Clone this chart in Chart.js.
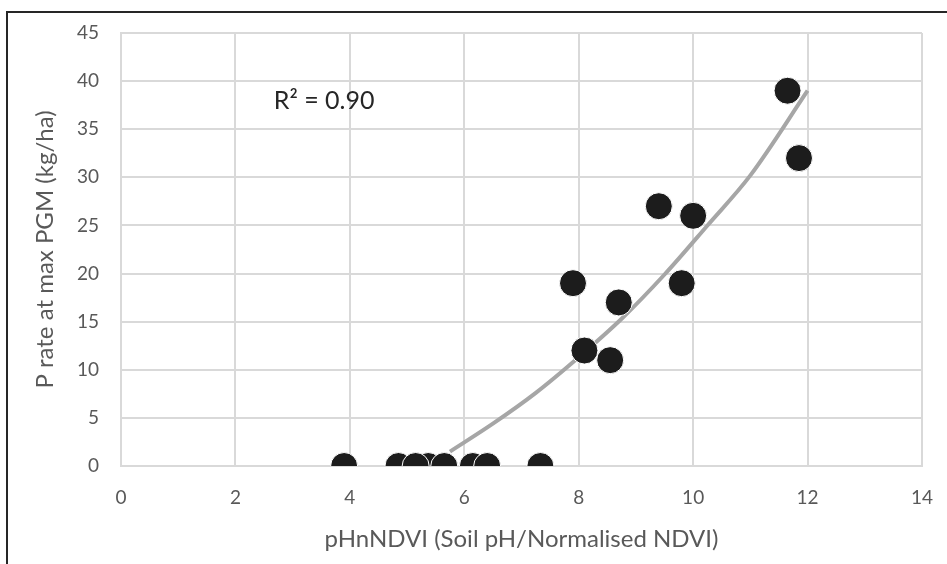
<!DOCTYPE html>
<html>
<head>
<meta charset="utf-8">
<script src="https://cdn.jsdelivr.net/npm/chart.js@4/dist/chart.umd.min.js"></script>
<style>
  html, body { margin: 0; padding: 0; background: #fff; }
  #wrap { width: 947px; height: 564px; position: relative; }
</style>
</head>
<body>
<div id="wrap"><canvas id="scatter"></canvas></div>
<script>
// sites: pHnNDVI vs P rate at max PGM
const siteX = [3.9, 4.85, 5.37, 5.15, 5.65, 6.15, 6.4, 7.33, 7.9, 8.1, 8.55, 8.7, 9.4, 9.8, 10.0, 11.65, 11.85];
const siteY = [0, 0, 0, 0, 0, 0, 0, 0, 19, 12, 11, 17, 27, 19, 26, 39, 32];

// trend curve, read along its length
const trendX = [5.75, 6.5, 7.25, 8.0, 8.75, 9.5, 10.25, 11.0, 12.0];
const trendY = [1.5, 4.4, 7.6, 11.3, 15.3, 19.9, 25.0, 30.2, 39.0];

const xTicks = [0, 2, 4, 6, 8, 10, 12, 14];
const yTicks = [0, 5, 10, 15, 20, 25, 30, 35, 40, 45];
const r2Label = "R\u00B2 = 0.90";

const FONT = "Lato, 'Open Sans', sans-serif";
const GREY = "#595959";

const toPoints = (xs, ys) => xs.map((x, i) => ({ x: x, y: ys[i] }));

// outer frame + R² annotation
const extras = {
    id: "extras",
    afterDraw(chart) {
        const ctx = chart.ctx;
        ctx.save();
        ctx.strokeStyle = "#262626";
        ctx.lineWidth = 2;
        ctx.beginPath();
        ctx.moveTo(7, 564);
        ctx.lineTo(7, 12);
        ctx.lineTo(947, 12);
        ctx.stroke();

        const xs = chart.scales.x, ys = chart.scales.y;
        ctx.fillStyle = "#262626";
        ctx.font = "25px " + FONT;
        ctx.textBaseline = "middle";
        ctx.textAlign = "left";
        ctx.fillText(r2Label, xs.getPixelForValue(2.67), ys.getPixelForValue(37.9));
        ctx.restore();
    }
};

new Chart(document.getElementById("scatter"), {
    type: "scatter",
    data: {
        datasets: [
            {
                label: "sites",
                data: toPoints(siteX, siteY),
                backgroundColor: "#1c1c1c",
                borderColor: "#ffffff",
                borderWidth: 1,
                pointRadius: 13.5,
                pointHoverRadius: 13.5,
                order: 0
            },
            {
                label: "trend",
                data: toPoints(trendX, trendY),
                showLine: true,
                borderColor: "#a6a6a6",
                borderWidth: 4,
                pointRadius: 0,
                cubicInterpolationMode: "monotone",
                fill: false,
                order: 1
            }
        ]
    },
    options: {
        responsive: true,
        maintainAspectRatio: false,
        animation: false,
        events: [],
        layout: { padding: { left: 0, top: 33, right: 25, bottom: 0 } },
        plugins: {
            legend: { display: false },
            tooltip: { enabled: false }
        },
        scales: {
            x: {
                type: "linear",
                min: 0,
                max: 14,
                afterBuildTicks: s => { s.ticks = xTicks.map(v => ({ value: v })); },
                afterFit: s => { s.height = 98; s.paddingLeft = 0; s.paddingRight = 0; },
                grid: { color: "#d9d9d9", lineWidth: 2, drawTicks: false },
                border: { color: "#d9d9d9", width: 2 },
                ticks: { color: GREY, font: { family: FONT, size: 19 }, padding: 20 },
                title: {
                    display: true,
                    text: "pHnNDVI (Soil pH/Normalised NDVI)",
                    color: GREY,
                    font: { family: FONT, size: 24 },
                    padding: { top: 0, bottom: 10 }
                }
            },
            y: {
                type: "linear",
                min: 0,
                max: 45,
                afterBuildTicks: s => { s.ticks = yTicks.map(v => ({ value: v })); },
                afterFit: s => { s.width = 121; s.paddingTop = 0; s.paddingBottom = 0; },
                grid: { color: "#d9d9d9", lineWidth: 2, drawTicks: false },
                border: { color: "#d9d9d9", width: 2 },
                ticks: { color: GREY, font: { family: FONT, size: 19 }, padding: 22 },
                title: {
                    display: true,
                    text: "P rate at max PGM (kg/ha)",
                    color: GREY,
                    font: { family: FONT, size: 24 },
                    padding: { top: 31, bottom: 0 }
                }
            }
        }
    },
    plugins: [extras]
});
</script>
</body>
</html>
